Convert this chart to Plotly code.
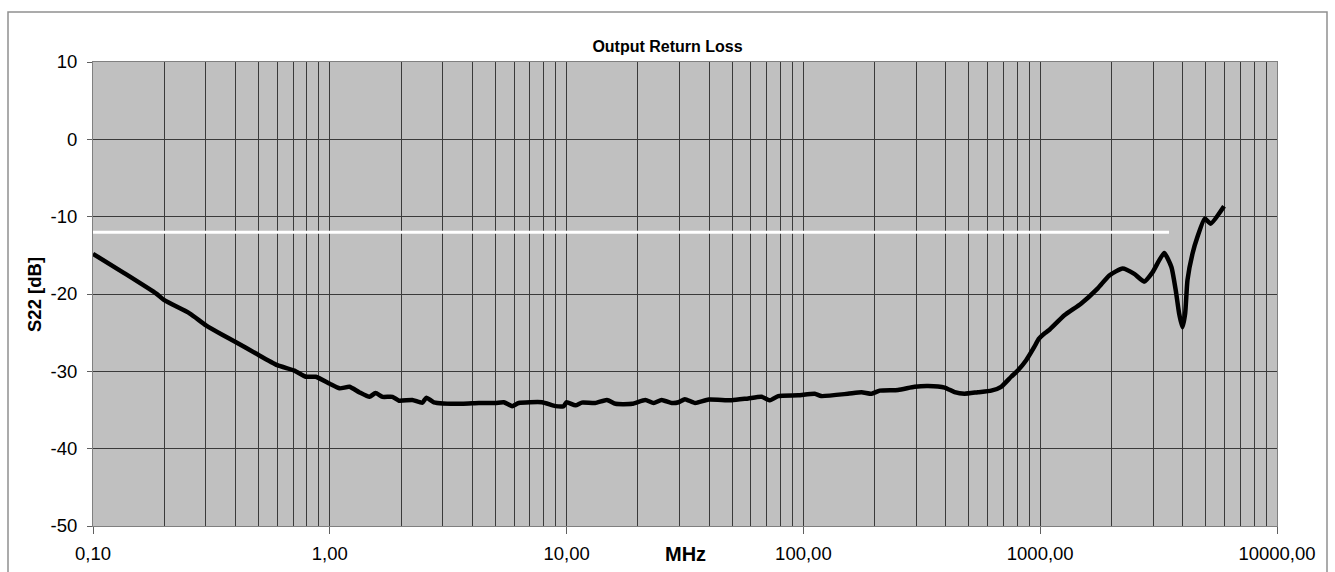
import plotly.graph_objects as go

# S22 curve (frequency in MHz, return loss in dB)
freq_mhz = [0.1, 0.1338, 0.185, 0.2, 0.2556, 0.3, 0.353, 0.4, 0.488, 0.6, 0.708, 0.794, 0.873,
            1.0, 1.1, 1.21, 1.33, 1.47, 1.56, 1.67, 1.84, 1.96, 2.23, 2.46, 2.56, 2.75, 3.62,
            4.26, 5.0, 5.43, 5.89, 6.28, 7.87, 8.97, 9.72, 10.0, 10.9, 11.6, 13.2, 14.8, 16.1,
            18.9, 21.5, 23.3, 25.2, 27.8, 29.7, 31.6, 34.9, 39.8, 49.8, 58.5, 66.6, 72.2, 78.3,
            95, 111.7, 119, 154, 176, 194, 210, 251, 295, 336, 395, 435, 479, 545, 621, 684,
            754, 804, 871, 944, 986, 1042, 1087, 1265, 1486, 1746, 1958, 2228, 2496, 2750,
            2980, 3337, 3581, 3735, 3860, 3986, 4094, 4188, 4396, 4615, 4955, 5250, 5975]
s22_db = [-14.8, -17.2, -19.95, -20.8, -22.5, -24.05, -25.3, -26.2, -27.7, -29.2, -29.9, -30.7, -30.7,
          -31.6, -32.2, -32.0, -32.7, -33.3, -32.8, -33.3, -33.3, -33.8, -33.7, -34.05, -33.4, -34.0, -34.2,
          -34.1, -34.1, -34.0, -34.5, -34.1, -34.0, -34.5, -34.5, -34.0, -34.4, -34.05, -34.1, -33.7, -34.2,
          -34.2, -33.7, -34.1, -33.7, -34.1, -34.0, -33.6, -34.1, -33.65, -33.75, -33.5, -33.3, -33.75, -33.2,
          -33.1, -32.9, -33.2, -32.9, -32.7, -32.9, -32.5, -32.4, -32.0, -31.9, -32.1, -32.7, -32.9, -32.7, -32.5, -32.0,
          -30.7, -29.9, -28.6, -26.85, -25.8, -25.1, -24.7, -22.75, -21.25, -19.3, -17.6, -16.7, -17.4, -18.4,
          -17.2, -14.7, -16.5, -19.5, -22.5, -24.3, -22.5, -18.2, -14.8, -12.6, -10.25, -10.9, -8.66]

# Limit line
limit_freq = [0.1, 3500]
limit_db = [-12, -12]

x_tickvals = [0.1, 1, 10, 100, 1000, 10000]
x_ticktext = ["0,10", "1,00", "10,00", "100,00", "1000,00", "10000,00"]
y_tickvals = [10, 0, -10, -20, -30, -40, -50]
y_ticktext = ["10", "0", "-10", "-20", "-30", "-40", "-50"]

minor_vals = [m * 10 ** e for e in range(-1, 4) for m in range(2, 10)]

fig = go.Figure()
fig.add_trace(go.Scatter(x=limit_freq, y=limit_db, mode="lines",
                         line=dict(color="white", width=3), hoverinfo="skip"))
fig.add_trace(go.Scatter(x=freq_mhz, y=s22_db, mode="lines",
                         line=dict(color="black", width=4.5, shape="spline", smoothing=0.5)))

font_family = "Liberation Sans, Arial, sans-serif"

fig.update_layout(
    width=1335, height=572,
    margin=dict(l=93, r=58, t=62, b=46, autoexpand=False),
    paper_bgcolor="white",
    plot_bgcolor="#c0c0c0",
    showlegend=False,
    font=dict(family=font_family, color="black"),
    title=dict(text="<b>Output Return Loss</b>", x=0.5, xref="container", xanchor="center",
               y=1 - 46.5 / 572, yanchor="middle", yref="container",
               font=dict(size=16, family=font_family, color="black")),
)

fig.update_xaxes(
    type="log", range=[-1, 4], automargin=False,
    tickvals=x_tickvals, ticktext=x_ticktext,
    tickfont=dict(size=18.5, family=font_family, color="black"),
    ticks="outside", ticklen=7, tickcolor="#606060", tickwidth=1,
    ticklabelstandoff=4,
    showgrid=True, gridcolor="#3a3a3a", gridwidth=1,
    minor=dict(tickvals=minor_vals, showgrid=True, gridcolor="#3a3a3a", gridwidth=1, ticks=""),
    showline=True, linecolor="#808080", linewidth=1, mirror=True,
    zeroline=False,
)
fig.update_yaxes(
    range=[-50, 10], automargin=False,
    tickvals=y_tickvals, ticktext=y_ticktext,
    tickfont=dict(size=18.5, family=font_family, color="black"),
    ticks="outside", ticklen=5, tickcolor="#606060", tickwidth=1,
    ticklabelstandoff=6,
    showgrid=True, gridcolor="#3a3a3a", gridwidth=1,
    showline=True, linecolor="#808080", linewidth=1, mirror=True,
    zeroline=False,
)

fig.add_annotation(text="<b>S22 [dB]</b>", xref="paper", yref="paper",
                   x=(34 - 93) / 1184, y=(526 - 295) / 464, textangle=-90,
                   xanchor="center", yanchor="middle", showarrow=False,
                   font=dict(size=18.5, family=font_family, color="black"))

fig.add_annotation(text="<b>MHz</b>", xref="paper", yref="paper", x=(685.5 - 93) / 1184, y=0,
                   xanchor="center", yanchor="middle", yshift=-28, showarrow=False,
                   font=dict(size=20, family=font_family, color="black"))

# outer chart frame
fig.add_shape(type="rect", xref="paper", yref="paper",
              x0=-85 / 1184, x1=(1327 - 93) / 1184, y0=-60 / 464, y1=(526 - 12) / 464,
              line=dict(color="#909090", width=1.5), fillcolor="rgba(0,0,0,0)", layer="below")

fig.write_html("out.html")
